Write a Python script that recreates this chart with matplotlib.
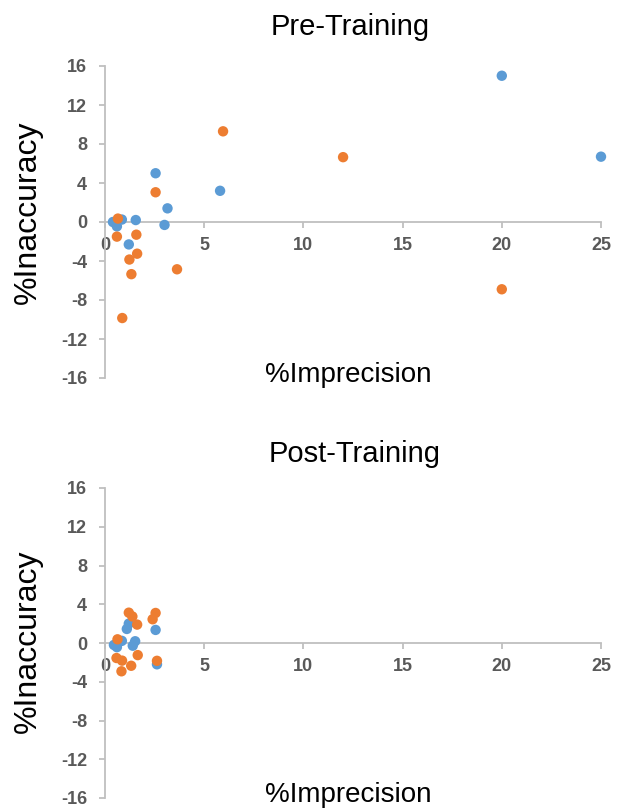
import matplotlib
matplotlib.use("Agg")
import matplotlib.pyplot as plt

plt.rcParams['font.family'] = ['Liberation Sans', 'DejaVu Sans']
plt.rcParams['axes.unicode_minus'] = False

# Pre-training values
pre_blue_x = [20.0, 25.0, 2.55, 5.8, 3.15, 3.0, 1.55, 0.85, 0.4, 0.6, 1.2]
pre_blue_y = [15.0, 6.7, 5.0, 3.2, 1.4, -0.3, 0.2, 0.25, 0.0, -0.45, -2.3]
pre_orange_x = [5.95, 12.0, 2.55, 0.65, 0.6, 1.58, 1.62, 1.23, 1.33, 3.63, 0.87, 20.0]
pre_orange_y = [9.3, 6.65, 3.05, 0.35, -1.5, -1.3, -3.25, -3.85, -5.35, -4.85, -9.85, -6.9]

# Post-training values
post_blue_x = [2.55, 2.62, 1.1, 1.2, 1.52, 1.4, 0.45, 0.6, 0.85]
post_blue_y = [1.35, -2.2, 1.45, 2.0, 0.18, -0.28, -0.2, -0.43, 0.22]
post_orange_x = [1.2, 1.38, 1.62, 2.4, 2.55, 0.63, 0.58, 0.86, 0.83, 1.32, 1.65, 2.62]
post_orange_y = [3.13, 2.74, 1.9, 2.45, 3.1, 0.38, -1.55, -1.82, -2.92, -2.35, -1.25, -1.84]

x_ticks = [0, 5, 10, 15, 20, 25]
y_ticks = [-16, -12, -8, -4, 0, 4, 8, 12, 16]

BLUE = '#5B9BD5'
ORANGE = '#ED7D31'
GRID = '#BFBFBF'
TICK_TXT = '#595959'

W, H = 617, 809
fig = plt.figure(figsize=(W / 100, H / 100), dpi=100)


def make_panel(rect, title, title_xy, ylabel_y, bx, by, ox, oy):
    ax = fig.add_axes(rect)
    ax.scatter(bx, by, s=56, color=BLUE, edgecolors='none', zorder=3, clip_on=False)
    ax.scatter(ox, oy, s=56, color=ORANGE, edgecolors='none', zorder=4, clip_on=False)
    ax.set_xlim(0, 25)
    ax.set_ylim(-16, 16)
    ax.set_xticks(x_ticks)
    ax.set_yticks(y_ticks)
    for s in ['top', 'right']:
        ax.spines[s].set_visible(False)
    ax.spines['bottom'].set_position(('data', 0))
    for s in ['left', 'bottom']:
        ax.spines[s].set_color(GRID)
        ax.spines[s].set_linewidth(1.3)
    ax.tick_params(axis='both', direction='out', length=4, width=1.3, color=GRID,
                   labelcolor=TICK_TXT, labelsize=13)
    ax.tick_params(axis='x', pad=7)
    ax.tick_params(axis='y', pad=9)
    for lab in ax.get_xticklabels() + ax.get_yticklabels():
        lab.set_fontweight('bold')
    ax.text(0.49, 0.01, '%Imprecision', transform=ax.transAxes, ha='center',
            va='center', fontsize=20, color='black')
    fig.text(title_xy[0] / W, 1 - title_xy[1] / H, title, ha='center',
             va='baseline', fontsize=21, color='black')
    fig.text(28 / W, 1 - ylabel_y / H, '%Inaccuracy', rotation=90, ha='center',
             va='center', fontsize=23, color='black')
    return ax


make_panel([105 / W, 1 - 378 / H, 496 / W, 312 / H], 'Pre-Training', (350, 35), 212,
           pre_blue_x, pre_blue_y, pre_orange_x, pre_orange_y)
make_panel([105 / W, 1 - 798 / H, 496 / W, 310 / H], 'Post-Training', (355, 462), 641,
           post_blue_x, post_blue_y, post_orange_x, post_orange_y)

fig.savefig('out.png', dpi=100)
